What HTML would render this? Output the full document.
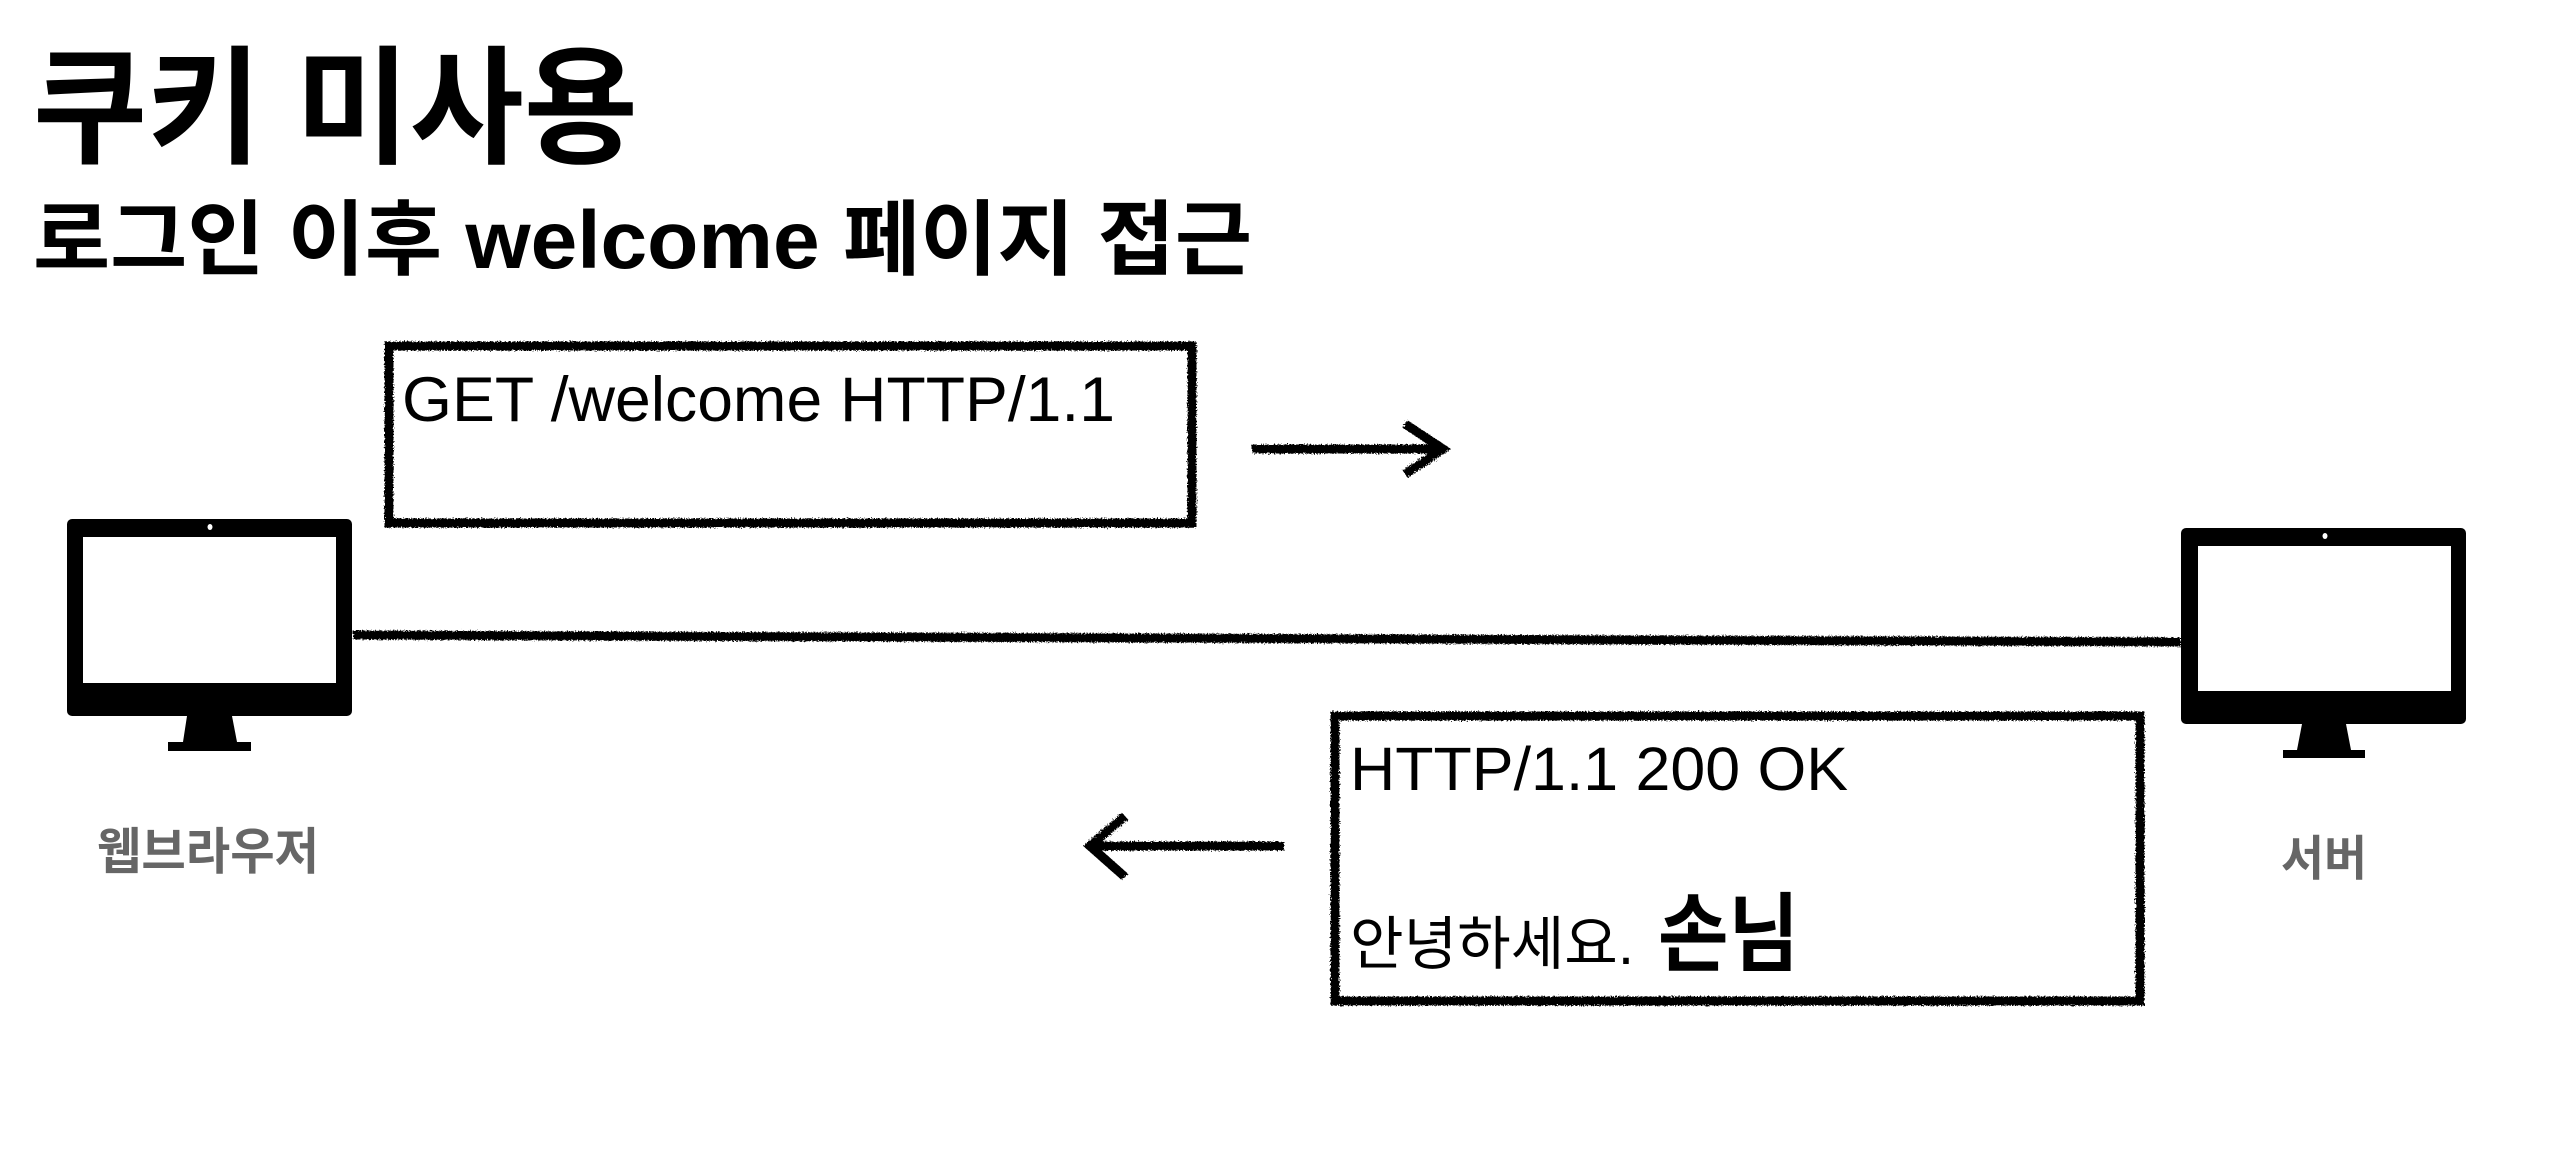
<!DOCTYPE html>
<html><head><meta charset="utf-8"><style>
html,body{margin:0;padding:0;background:#fff;}
svg{display:block}
.k{font-family:"Liberation Sans","Noto Sans CJK KR",sans-serif;}
</style></head><body>
<svg width="2576" height="1156" viewBox="0 0 2576 1156" xmlns="http://www.w3.org/2000/svg">
<defs>
<filter id="r" x="-5%" y="-5%" width="110%" height="110%">
<feTurbulence type="fractalNoise" baseFrequency="0.7" numOctaves="2" result="n"/>
<feDisplacementMap in="SourceGraphic" in2="n" scale="5"/>
</filter>
</defs>
<text class="k" x="33" y="153" font-size="128" font-weight="bold" fill="#000" textLength="605" lengthAdjust="spacingAndGlyphs">쿠키 미사용</text>
<text class="k" x="33" y="268" font-size="82" font-weight="bold" fill="#000" textLength="1219" lengthAdjust="spacingAndGlyphs">로그인 이후 welcome 페이지 접근</text>

<g filter="url(#r)" fill="none" stroke="#000" stroke-width="9">
<rect x="389" y="346" width="803" height="177"/>
<rect x="1335" y="716" width="805" height="285"/>
<line x1="353" y1="635" x2="2181" y2="642"/>
<line x1="1252" y1="449" x2="1440" y2="449"/>
<polyline points="1405,424 1443,449 1405,474"/>
<line x1="1092" y1="846" x2="1284" y2="846"/>
<polyline points="1125,816 1090,846 1125,877"/>
</g>

<text class="k" x="402" y="421" font-size="63" fill="#000" textLength="713" lengthAdjust="spacingAndGlyphs">GET /welcome HTTP/1.1</text>
<text class="k" x="1350" y="790" font-size="61" fill="#000" textLength="498" lengthAdjust="spacingAndGlyphs">HTTP/1.1 200 OK</text>
<text class="k" x="1350" y="964" font-size="58" fill="#000" textLength="284" lengthAdjust="spacingAndGlyphs">안녕하세요.</text>
<text class="k" x="1658" y="964" font-size="86" font-weight="bold" fill="#000" textLength="141" lengthAdjust="spacingAndGlyphs">손님</text>

<!-- left monitor -->
<rect x="67" y="519" width="285" height="197" rx="5" fill="#000"/>
<rect x="83" y="537" width="253" height="146" fill="#fff"/>
<ellipse cx="210" cy="527" rx="2.5" ry="3" fill="#fff"/>
<polygon points="187,716 232,716 237,742 183,742" fill="#000"/>
<rect x="168" y="742" width="83" height="9" fill="#000"/>
<text class="k" x="97" y="869" font-size="50" font-weight="bold" fill="#666" textLength="222" lengthAdjust="spacingAndGlyphs">웹브라우저</text>

<!-- right monitor -->
<rect x="2181" y="528" width="285" height="196" rx="5" fill="#000"/>
<rect x="2198" y="546" width="253" height="145" fill="#fff"/>
<ellipse cx="2325" cy="536" rx="2.5" ry="3" fill="#fff"/>
<polygon points="2302,724 2346,724 2351,750 2297,750" fill="#000"/>
<rect x="2283" y="750" width="82" height="8" fill="#000"/>
<text class="k" x="2281" y="875" font-size="48" font-weight="bold" fill="#666" textLength="86" lengthAdjust="spacingAndGlyphs">서버</text>
</svg>
</body></html>
